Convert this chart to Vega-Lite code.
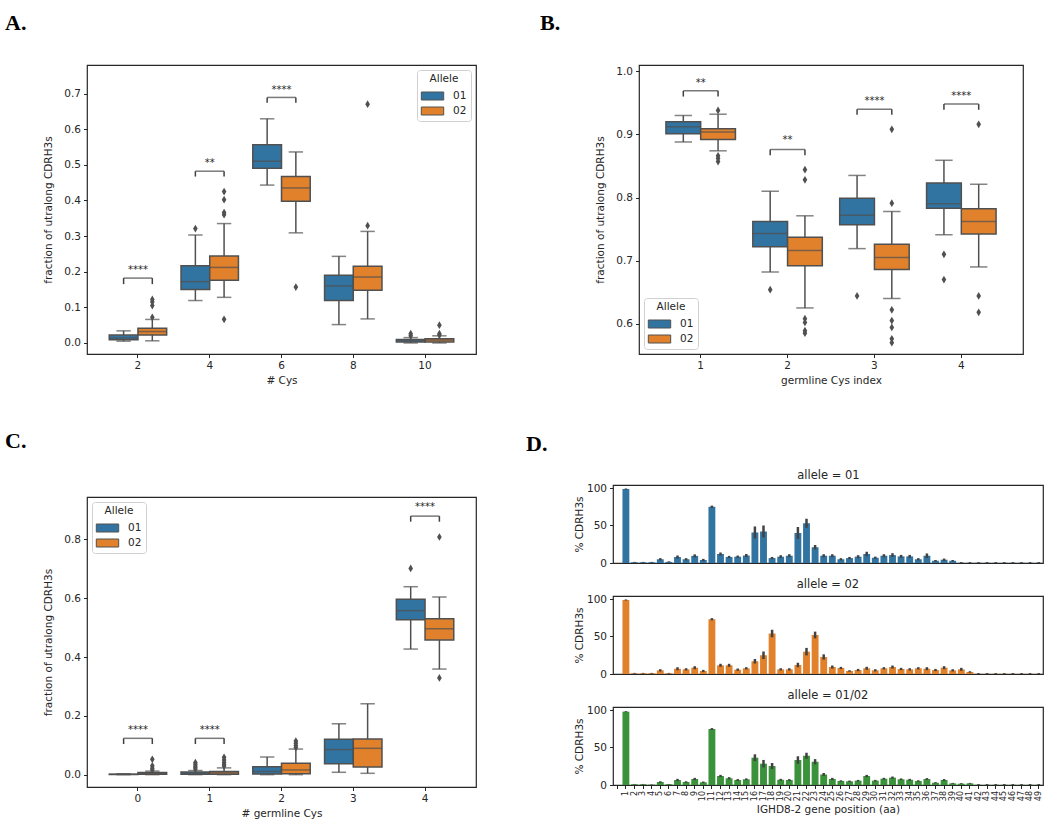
{
"$schema": "https://vega.github.io/schema/vega-lite/v6.json",
"background": "white",
"padding": {"left": 4, "top": 11, "right": 0, "bottom": 0},
"config": {
 "font": "DejaVu Sans",
 "view": {"stroke": "#262626", "strokeWidth": 1.2},
 "axis": {"domain": false, "grid": false, "tickColor": "#262626", "tickSize": 3.5, "tickWidth": 1, "labelColor": "#262626", "labelFontSize": 10.5, "titleFontSize": 10.5, "titleFontWeight": "normal", "titleColor": "#262626", "labelPadding": 3},
 "axisY": {"titlePadding": 10},
 "axisX": {"titlePadding": 4},
 "legend": {"titleFontSize": 10.5, "titleFontWeight": "normal", "titleColor": "#262626", "labelFontSize": 10.5, "labelColor": "#262626", "symbolType": "M-1.4,-0.5H1.4V0.5H-1.4Z", "symbolSize": 256, "symbolOffset": 3, "symbolStrokeColor": "#505050", "symbolStrokeWidth": 1, "padding": 4, "strokeColor": "#d0d0d0", "fillColor": "white", "cornerRadius": 3, "titleAnchor": "middle", "labelOffset": 12, "rowPadding": 0, "titlePadding": 3, "offset": 5},
 "title": {"font": "Liberation Serif", "fontSize": 22, "fontWeight": "bold", "color": "#000000", "anchor": "start", "frame": "group", "baseline": "alphabetic"}
},
"datasets": {
 "boxes": [
  {"panel":"A","cat":2,"allele":"01","lo":0.005,"q1":0.009,"med":0.014,"q3":0.022,"hi":0.034},
  {"panel":"A","cat":2,"allele":"02","lo":0.006,"q1":0.0225,"med":0.032,"q3":0.041,"hi":0.066},
  {"panel":"A","cat":4,"allele":"01","lo":0.119,"q1":0.150,"med":0.172,"q3":0.2165,"hi":0.303},
  {"panel":"A","cat":4,"allele":"02","lo":0.128,"q1":0.176,"med":0.212,"q3":0.244,"hi":0.335},
  {"panel":"A","cat":6,"allele":"01","lo":0.443,"q1":0.490,"med":0.510,"q3":0.556,"hi":0.629},
  {"panel":"A","cat":6,"allele":"02","lo":0.309,"q1":0.398,"med":0.435,"q3":0.467,"hi":0.536},
  {"panel":"A","cat":8,"allele":"01","lo":0.0515,"q1":0.119,"med":0.160,"q3":0.190,"hi":0.243},
  {"panel":"A","cat":8,"allele":"02","lo":0.0675,"q1":0.148,"med":0.185,"q3":0.2155,"hi":0.313},
  {"panel":"A","cat":10,"allele":"01","lo":0.0,"q1":0.003,"med":0.006,"q3":0.010,"hi":0.015},
  {"panel":"A","cat":10,"allele":"02","lo":0.0,"q1":0.003,"med":0.008,"q3":0.012,"hi":0.020},
  {"panel":"B","cat":1,"allele":"01","lo":0.888,"q1":0.901,"med":0.912,"q3":0.920,"hi":0.930},
  {"panel":"B","cat":1,"allele":"02","lo":0.874,"q1":0.892,"med":0.904,"q3":0.909,"hi":0.932},
  {"panel":"B","cat":2,"allele":"01","lo":0.682,"q1":0.722,"med":0.743,"q3":0.762,"hi":0.810},
  {"panel":"B","cat":2,"allele":"02","lo":0.625,"q1":0.692,"med":0.716,"q3":0.737,"hi":0.771},
  {"panel":"B","cat":3,"allele":"01","lo":0.719,"q1":0.757,"med":0.772,"q3":0.799,"hi":0.835},
  {"panel":"B","cat":3,"allele":"02","lo":0.640,"q1":0.686,"med":0.705,"q3":0.726,"hi":0.778},
  {"panel":"B","cat":4,"allele":"01","lo":0.741,"q1":0.783,"med":0.790,"q3":0.823,"hi":0.859},
  {"panel":"B","cat":4,"allele":"02","lo":0.690,"q1":0.742,"med":0.762,"q3":0.782,"hi":0.821},
  {"panel":"C","cat":0,"allele":"01","lo":0.0,"q1":0.0005,"med":0.001,"q3":0.0015,"hi":0.003},
  {"panel":"C","cat":0,"allele":"02","lo":0.0,"q1":0.001,"med":0.004,"q3":0.007,"hi":0.012},
  {"panel":"C","cat":1,"allele":"01","lo":0.0,"q1":0.001,"med":0.004,"q3":0.009,"hi":0.014},
  {"panel":"C","cat":1,"allele":"02","lo":0.0,"q1":0.001,"med":0.006,"q3":0.011,"hi":0.023},
  {"panel":"C","cat":2,"allele":"01","lo":0.0,"q1":0.002,"med":0.011,"q3":0.027,"hi":0.060},
  {"panel":"C","cat":2,"allele":"02","lo":0.0,"q1":0.003,"med":0.016,"q3":0.0385,"hi":0.087},
  {"panel":"C","cat":3,"allele":"01","lo":0.008,"q1":0.037,"med":0.085,"q3":0.120,"hi":0.173},
  {"panel":"C","cat":3,"allele":"02","lo":0.0045,"q1":0.026,"med":0.0895,"q3":0.121,"hi":0.241},
  {"panel":"C","cat":4,"allele":"01","lo":0.427,"q1":0.527,"med":0.5575,"q3":0.596,"hi":0.639},
  {"panel":"C","cat":4,"allele":"02","lo":0.359,"q1":0.458,"med":0.496,"q3":0.530,"hi":0.604}
 ],
 "outliers": [
  {"panel":"A","cat":2,"allele":"02","v":0.122},{"panel":"A","cat":2,"allele":"02","v":0.115},{"panel":"A","cat":2,"allele":"02","v":0.105},{"panel":"A","cat":2,"allele":"02","v":0.072},
  {"panel":"A","cat":4,"allele":"01","v":0.321},
  {"panel":"A","cat":4,"allele":"02","v":0.425},{"panel":"A","cat":4,"allele":"02","v":0.402},{"panel":"A","cat":4,"allele":"02","v":0.366},{"panel":"A","cat":4,"allele":"02","v":0.360},{"panel":"A","cat":4,"allele":"02","v":0.0665},
  {"panel":"A","cat":6,"allele":"02","v":0.157},
  {"panel":"A","cat":8,"allele":"02","v":0.670},{"panel":"A","cat":8,"allele":"02","v":0.329},
  {"panel":"A","cat":10,"allele":"01","v":0.026},{"panel":"A","cat":10,"allele":"01","v":0.020},
  {"panel":"A","cat":10,"allele":"02","v":0.050},{"panel":"A","cat":10,"allele":"02","v":0.026},{"panel":"A","cat":10,"allele":"02","v":0.022},
  {"panel":"B","cat":1,"allele":"02","v":0.938},{"panel":"B","cat":1,"allele":"02","v":0.866},{"panel":"B","cat":1,"allele":"02","v":0.862},{"panel":"B","cat":1,"allele":"02","v":0.857},
  {"panel":"B","cat":2,"allele":"01","v":0.654},
  {"panel":"B","cat":2,"allele":"02","v":0.844},{"panel":"B","cat":2,"allele":"02","v":0.828},{"panel":"B","cat":2,"allele":"02","v":0.608},{"panel":"B","cat":2,"allele":"02","v":0.602},{"panel":"B","cat":2,"allele":"02","v":0.589},{"panel":"B","cat":2,"allele":"02","v":0.585},
  {"panel":"B","cat":3,"allele":"01","v":0.644},
  {"panel":"B","cat":3,"allele":"02","v":0.908},{"panel":"B","cat":3,"allele":"02","v":0.791},{"panel":"B","cat":3,"allele":"02","v":0.622},{"panel":"B","cat":3,"allele":"02","v":0.605},{"panel":"B","cat":3,"allele":"02","v":0.594},{"panel":"B","cat":3,"allele":"02","v":0.576},{"panel":"B","cat":3,"allele":"02","v":0.570},
  {"panel":"B","cat":4,"allele":"01","v":0.710},{"panel":"B","cat":4,"allele":"01","v":0.670},
  {"panel":"B","cat":4,"allele":"02","v":0.916},{"panel":"B","cat":4,"allele":"02","v":0.644},{"panel":"B","cat":4,"allele":"02","v":0.618},
  {"panel":"C","cat":0,"allele":"02","v":0.052},{"panel":"C","cat":0,"allele":"02","v":0.030},{"panel":"C","cat":0,"allele":"02","v":0.022},{"panel":"C","cat":0,"allele":"02","v":0.016},
  {"panel":"C","cat":1,"allele":"01","v":0.041},{"panel":"C","cat":1,"allele":"01","v":0.035},{"panel":"C","cat":1,"allele":"01","v":0.029},{"panel":"C","cat":1,"allele":"01","v":0.024},{"panel":"C","cat":1,"allele":"01","v":0.019},
  {"panel":"C","cat":1,"allele":"02","v":0.059},{"panel":"C","cat":1,"allele":"02","v":0.050},{"panel":"C","cat":1,"allele":"02","v":0.042},{"panel":"C","cat":1,"allele":"02","v":0.035},{"panel":"C","cat":1,"allele":"02","v":0.029},
  {"panel":"C","cat":2,"allele":"02","v":0.114},{"panel":"C","cat":2,"allele":"02","v":0.107},{"panel":"C","cat":2,"allele":"02","v":0.099},{"panel":"C","cat":2,"allele":"02","v":0.092},
  {"panel":"C","cat":4,"allele":"01","v":0.701},
  {"panel":"C","cat":4,"allele":"02","v":0.808},{"panel":"C","cat":4,"allele":"02","v":0.329}
 ],
 "sig": [
  {"panel":"A","cat":2,"allele":"01","lo":0.165,"top":0.182,"ty":0.204,"label":"****"},
  {"panel":"A","cat":2,"allele":"02","lo":0.165,"top":0.182,"ty":0.204,"label":"****"},
  {"panel":"A","cat":4,"allele":"01","lo":0.467,"top":0.482,"ty":0.505,"label":"**"},
  {"panel":"A","cat":4,"allele":"02","lo":0.467,"top":0.482,"ty":0.505,"label":"**"},
  {"panel":"A","cat":6,"allele":"01","lo":0.674,"top":0.689,"ty":0.711,"label":"****"},
  {"panel":"A","cat":6,"allele":"02","lo":0.674,"top":0.689,"ty":0.711,"label":"****"},
  {"panel":"B","cat":1,"allele":"01","lo":0.960,"top":0.969,"ty":0.982,"label":"**"},
  {"panel":"B","cat":1,"allele":"02","lo":0.960,"top":0.969,"ty":0.982,"label":"**"},
  {"panel":"B","cat":2,"allele":"01","lo":0.867,"top":0.876,"ty":0.891,"label":"**"},
  {"panel":"B","cat":2,"allele":"02","lo":0.867,"top":0.876,"ty":0.891,"label":"**"},
  {"panel":"B","cat":3,"allele":"01","lo":0.931,"top":0.940,"ty":0.953,"label":"****"},
  {"panel":"B","cat":3,"allele":"02","lo":0.931,"top":0.940,"ty":0.953,"label":"****"},
  {"panel":"B","cat":4,"allele":"01","lo":0.939,"top":0.948,"ty":0.961,"label":"****"},
  {"panel":"B","cat":4,"allele":"02","lo":0.939,"top":0.948,"ty":0.961,"label":"****"},
  {"panel":"C","cat":0,"allele":"01","lo":0.104,"top":0.1235,"ty":0.152,"label":"****"},
  {"panel":"C","cat":0,"allele":"02","lo":0.104,"top":0.1235,"ty":0.152,"label":"****"},
  {"panel":"C","cat":1,"allele":"01","lo":0.104,"top":0.1235,"ty":0.152,"label":"****"},
  {"panel":"C","cat":1,"allele":"02","lo":0.104,"top":0.1235,"ty":0.152,"label":"****"},
  {"panel":"C","cat":4,"allele":"01","lo":0.860,"top":0.879,"ty":0.909,"label":"****"},
  {"panel":"C","cat":4,"allele":"02","lo":0.860,"top":0.879,"ty":0.909,"label":"****"}
 ],
 "pos": [
  {"allele":"01","pos":0,"pct":0,"lo":0,"hi":0},
  {"allele":"01","pos":1,"pct":98.7,"lo":98.0,"hi":99.4},
  {"allele":"01","pos":2,"pct":1.0,"lo":0.5,"hi":1.5},
  {"allele":"01","pos":3,"pct":1.0,"lo":0.5,"hi":1.5},
  {"allele":"01","pos":4,"pct":1.0,"lo":0.5,"hi":1.5},
  {"allele":"01","pos":5,"pct":5.0,"lo":3.5,"hi":6.5},
  {"allele":"01","pos":6,"pct":1.5,"lo":0.8,"hi":2.2},
  {"allele":"01","pos":7,"pct":8.0,"lo":6.0,"hi":10.0},
  {"allele":"01","pos":8,"pct":5.0,"lo":3.5,"hi":6.5},
  {"allele":"01","pos":9,"pct":9.5,"lo":7.5,"hi":11.5},
  {"allele":"01","pos":10,"pct":4.0,"lo":2.5,"hi":5.5},
  {"allele":"01","pos":11,"pct":75.0,"lo":73.5,"hi":76.5},
  {"allele":"01","pos":12,"pct":12.0,"lo":10.0,"hi":14.0},
  {"allele":"01","pos":13,"pct":8.0,"lo":6.5,"hi":9.5},
  {"allele":"01","pos":14,"pct":8.4,"lo":6.9,"hi":9.9},
  {"allele":"01","pos":15,"pct":10.0,"lo":8.0,"hi":12.0},
  {"allele":"01","pos":16,"pct":40.7,"lo":32.7,"hi":48.7},
  {"allele":"01","pos":17,"pct":42.0,"lo":34.0,"hi":50.0},
  {"allele":"01","pos":18,"pct":6.6,"lo":5.1,"hi":8.1},
  {"allele":"01","pos":19,"pct":8.4,"lo":6.4,"hi":10.4},
  {"allele":"01","pos":20,"pct":9.7,"lo":7.7,"hi":11.7},
  {"allele":"01","pos":21,"pct":40.0,"lo":32.0,"hi":48.0},
  {"allele":"01","pos":22,"pct":53.0,"lo":47.0,"hi":59.0},
  {"allele":"01","pos":23,"pct":21.0,"lo":18.0,"hi":24.0},
  {"allele":"01","pos":24,"pct":9.7,"lo":7.7,"hi":11.7},
  {"allele":"01","pos":25,"pct":9.7,"lo":7.7,"hi":11.7},
  {"allele":"01","pos":26,"pct":5.0,"lo":3.5,"hi":6.5},
  {"allele":"01","pos":27,"pct":6.6,"lo":5.1,"hi":8.1},
  {"allele":"01","pos":28,"pct":8.4,"lo":6.4,"hi":10.4},
  {"allele":"01","pos":29,"pct":12.0,"lo":9.0,"hi":15.0},
  {"allele":"01","pos":30,"pct":7.0,"lo":5.5,"hi":8.5},
  {"allele":"01","pos":31,"pct":9.7,"lo":7.7,"hi":11.7},
  {"allele":"01","pos":32,"pct":10.6,"lo":8.1,"hi":13.1},
  {"allele":"01","pos":33,"pct":8.8,"lo":6.8,"hi":10.8},
  {"allele":"01","pos":34,"pct":8.8,"lo":6.8,"hi":10.8},
  {"allele":"01","pos":35,"pct":5.0,"lo":3.5,"hi":6.5},
  {"allele":"01","pos":36,"pct":9.7,"lo":6.7,"hi":12.7},
  {"allele":"01","pos":37,"pct":3.0,"lo":2.0,"hi":4.0},
  {"allele":"01","pos":38,"pct":4.4,"lo":2.9,"hi":5.9},
  {"allele":"01","pos":39,"pct":3.0,"lo":2.0,"hi":4.0},
  {"allele":"01","pos":40,"pct":0.3,"lo":0,"hi":1.2},
  {"allele":"01","pos":41,"pct":0.3,"lo":0,"hi":1.2},
  {"allele":"01","pos":42,"pct":0.3,"lo":0,"hi":1.2},
  {"allele":"01","pos":43,"pct":0.3,"lo":0,"hi":1.2},
  {"allele":"01","pos":44,"pct":0.3,"lo":0,"hi":1.2},
  {"allele":"01","pos":45,"pct":0.3,"lo":0,"hi":1.2},
  {"allele":"01","pos":46,"pct":0.3,"lo":0,"hi":1.2},
  {"allele":"01","pos":47,"pct":0.3,"lo":0,"hi":1.2},
  {"allele":"01","pos":48,"pct":0.3,"lo":0,"hi":1.2},
  {"allele":"01","pos":49,"pct":0.3,"lo":0,"hi":1.2},
  {"allele":"02","pos":0,"pct":0,"lo":0,"hi":0},
  {"allele":"02","pos":1,"pct":98.7,"lo":98.0,"hi":99.4},
  {"allele":"02","pos":2,"pct":1.0,"lo":0.5,"hi":1.5},
  {"allele":"02","pos":3,"pct":1.0,"lo":0.5,"hi":1.5},
  {"allele":"02","pos":4,"pct":1.0,"lo":0.5,"hi":1.5},
  {"allele":"02","pos":5,"pct":4.9,"lo":3.4,"hi":6.4},
  {"allele":"02","pos":6,"pct":1.0,"lo":0.5,"hi":1.5},
  {"allele":"02","pos":7,"pct":7.0,"lo":5.0,"hi":9.0},
  {"allele":"02","pos":8,"pct":6.2,"lo":4.7,"hi":7.7},
  {"allele":"02","pos":9,"pct":8.4,"lo":6.4,"hi":10.4},
  {"allele":"02","pos":10,"pct":4.0,"lo":2.5,"hi":5.5},
  {"allele":"02","pos":11,"pct":73.0,"lo":71.5,"hi":74.5},
  {"allele":"02","pos":12,"pct":11.6,"lo":9.6,"hi":13.6},
  {"allele":"02","pos":13,"pct":11.6,"lo":9.6,"hi":13.6},
  {"allele":"02","pos":14,"pct":5.8,"lo":4.3,"hi":7.3},
  {"allele":"02","pos":15,"pct":7.6,"lo":6.1,"hi":9.1},
  {"allele":"02","pos":16,"pct":17.0,"lo":14.0,"hi":20.0},
  {"allele":"02","pos":17,"pct":25.0,"lo":20.0,"hi":30.0},
  {"allele":"02","pos":18,"pct":54.0,"lo":49.0,"hi":59.0},
  {"allele":"02","pos":19,"pct":6.2,"lo":4.7,"hi":7.7},
  {"allele":"02","pos":20,"pct":6.2,"lo":4.7,"hi":7.7},
  {"allele":"02","pos":21,"pct":12.0,"lo":9.0,"hi":15.0},
  {"allele":"02","pos":22,"pct":29.8,"lo":24.8,"hi":34.8},
  {"allele":"02","pos":23,"pct":52.0,"lo":47.5,"hi":56.5},
  {"allele":"02","pos":24,"pct":22.7,"lo":19.2,"hi":26.2},
  {"allele":"02","pos":25,"pct":9.3,"lo":7.3,"hi":11.3},
  {"allele":"02","pos":26,"pct":8.0,"lo":6.5,"hi":9.5},
  {"allele":"02","pos":27,"pct":4.0,"lo":3.0,"hi":5.0},
  {"allele":"02","pos":28,"pct":5.3,"lo":3.8,"hi":6.8},
  {"allele":"02","pos":29,"pct":7.6,"lo":5.6,"hi":9.6},
  {"allele":"02","pos":30,"pct":4.9,"lo":3.4,"hi":6.4},
  {"allele":"02","pos":31,"pct":7.6,"lo":6.1,"hi":9.1},
  {"allele":"02","pos":32,"pct":9.3,"lo":7.3,"hi":11.3},
  {"allele":"02","pos":33,"pct":6.7,"lo":5.2,"hi":8.2},
  {"allele":"02","pos":34,"pct":6.2,"lo":4.7,"hi":7.7},
  {"allele":"02","pos":35,"pct":7.6,"lo":6.1,"hi":9.1},
  {"allele":"02","pos":36,"pct":7.1,"lo":5.1,"hi":9.1},
  {"allele":"02","pos":37,"pct":5.3,"lo":3.8,"hi":6.8},
  {"allele":"02","pos":38,"pct":8.4,"lo":6.4,"hi":10.4},
  {"allele":"02","pos":39,"pct":4.9,"lo":3.4,"hi":6.4},
  {"allele":"02","pos":40,"pct":6.2,"lo":4.2,"hi":8.2},
  {"allele":"02","pos":41,"pct":2.7,"lo":1.7,"hi":3.7},
  {"allele":"02","pos":42,"pct":0.3,"lo":0,"hi":1.2},
  {"allele":"02","pos":43,"pct":0.3,"lo":0,"hi":1.2},
  {"allele":"02","pos":44,"pct":0.3,"lo":0,"hi":1.2},
  {"allele":"02","pos":45,"pct":0.3,"lo":0,"hi":1.2},
  {"allele":"02","pos":46,"pct":0.3,"lo":0,"hi":1.2},
  {"allele":"02","pos":47,"pct":0.3,"lo":0,"hi":1.2},
  {"allele":"02","pos":48,"pct":0.3,"lo":0,"hi":1.2},
  {"allele":"02","pos":49,"pct":0.3,"lo":0,"hi":1.2},
  {"allele":"01/02","pos":0,"pct":0,"lo":0,"hi":0},
  {"allele":"01/02","pos":1,"pct":97.8,"lo":97.2,"hi":98.4},
  {"allele":"01/02","pos":2,"pct":1.0,"lo":0.6,"hi":1.4},
  {"allele":"01/02","pos":3,"pct":1.0,"lo":0.6,"hi":1.4},
  {"allele":"01/02","pos":4,"pct":0.5,"lo":0.2,"hi":0.8},
  {"allele":"01/02","pos":5,"pct":4.0,"lo":3.0,"hi":5.0},
  {"allele":"01/02","pos":6,"pct":1.0,"lo":0.6,"hi":1.4},
  {"allele":"01/02","pos":7,"pct":6.7,"lo":5.2,"hi":8.2},
  {"allele":"01/02","pos":8,"pct":4.0,"lo":3.0,"hi":5.0},
  {"allele":"01/02","pos":9,"pct":8.0,"lo":6.5,"hi":9.5},
  {"allele":"01/02","pos":10,"pct":3.6,"lo":2.6,"hi":4.6},
  {"allele":"01/02","pos":11,"pct":74.7,"lo":73.5,"hi":75.9},
  {"allele":"01/02","pos":12,"pct":12.0,"lo":10.5,"hi":13.5},
  {"allele":"01/02","pos":13,"pct":9.0,"lo":7.5,"hi":10.5},
  {"allele":"01/02","pos":14,"pct":6.7,"lo":5.5,"hi":7.9},
  {"allele":"01/02","pos":15,"pct":7.6,"lo":6.4,"hi":8.8},
  {"allele":"01/02","pos":16,"pct":36.4,"lo":31.9,"hi":40.9},
  {"allele":"01/02","pos":17,"pct":28.4,"lo":23.4,"hi":33.4},
  {"allele":"01/02","pos":18,"pct":25.3,"lo":21.3,"hi":29.3},
  {"allele":"01/02","pos":19,"pct":7.0,"lo":5.8,"hi":8.2},
  {"allele":"01/02","pos":20,"pct":6.7,"lo":5.5,"hi":7.9},
  {"allele":"01/02","pos":21,"pct":33.3,"lo":28.3,"hi":38.3},
  {"allele":"01/02","pos":22,"pct":39.0,"lo":35.0,"hi":43.0},
  {"allele":"01/02","pos":23,"pct":31.0,"lo":27.5,"hi":34.5},
  {"allele":"01/02","pos":24,"pct":14.0,"lo":12.0,"hi":16.0},
  {"allele":"01/02","pos":25,"pct":8.0,"lo":6.5,"hi":9.5},
  {"allele":"01/02","pos":26,"pct":5.3,"lo":4.3,"hi":6.3},
  {"allele":"01/02","pos":27,"pct":4.9,"lo":3.9,"hi":5.9},
  {"allele":"01/02","pos":28,"pct":5.8,"lo":4.8,"hi":6.8},
  {"allele":"01/02","pos":29,"pct":12.0,"lo":10.5,"hi":13.5},
  {"allele":"01/02","pos":30,"pct":5.8,"lo":4.8,"hi":6.8},
  {"allele":"01/02","pos":31,"pct":8.4,"lo":7.2,"hi":9.6},
  {"allele":"01/02","pos":32,"pct":9.8,"lo":8.3,"hi":11.3},
  {"allele":"01/02","pos":33,"pct":7.6,"lo":6.4,"hi":8.8},
  {"allele":"01/02","pos":34,"pct":7.0,"lo":5.8,"hi":8.2},
  {"allele":"01/02","pos":35,"pct":5.3,"lo":4.3,"hi":6.3},
  {"allele":"01/02","pos":36,"pct":8.0,"lo":6.8,"hi":9.2},
  {"allele":"01/02","pos":37,"pct":3.0,"lo":2.2,"hi":3.8},
  {"allele":"01/02","pos":38,"pct":6.7,"lo":5.5,"hi":7.9},
  {"allele":"01/02","pos":39,"pct":2.2,"lo":1.6,"hi":2.8},
  {"allele":"01/02","pos":40,"pct":1.8,"lo":1.2,"hi":2.4},
  {"allele":"01/02","pos":41,"pct":2.2,"lo":1.6,"hi":2.8},
  {"allele":"01/02","pos":42,"pct":0.3,"lo":0,"hi":1.2},
  {"allele":"01/02","pos":43,"pct":0.3,"lo":0,"hi":1.2},
  {"allele":"01/02","pos":44,"pct":0.3,"lo":0,"hi":1.2},
  {"allele":"01/02","pos":45,"pct":0.3,"lo":0,"hi":1.2},
  {"allele":"01/02","pos":46,"pct":0.3,"lo":0,"hi":1.2},
  {"allele":"01/02","pos":47,"pct":0.3,"lo":0,"hi":1.2},
  {"allele":"01/02","pos":48,"pct":0.3,"lo":0,"hi":1.2},
  {"allele":"01/02","pos":49,"pct":0.3,"lo":0,"hi":1.2}
 ]
},
"resolve": {"scale": {"color": "independent", "x": "independent", "y": "independent", "xOffset": "independent"}, "legend": {"color": "independent"}},
"spacing": 42,
"vconcat": [
 {
  "spacing": 62,
  "resolve": {"scale": {"color": "independent", "x": "independent", "y": "independent", "xOffset": "independent"}, "legend": {"color": "independent"}},
  "hconcat": [
   {
    "width": 389, "height": 289,
    "title": {"text": "A.", "dx": -82, "offset": 30},
    "encoding": {"x": {"field": "cat", "type": "ordinal", "scale": {"domain": [2,4,6,8,10], "paddingInner": 0.2, "paddingOuter": 0.31}, "axis": {"title": "# Cys", "labelAngle": 0}}},
    "layer": [
     {"data": {"name": "boxes"}, "transform": [{"filter": "datum.panel == 'A'"}],
      "mark": {"type": "rule", "color": "#505050", "strokeWidth": 1.5},
      "encoding": {"xOffset": {"field": "allele", "type": "nominal", "scale": {"domain": ["01","02"], "paddingInner": 0, "paddingOuter": 0}},
       "y": {"field": "lo", "type": "quantitative", "scale": {"domain": [-0.031, 0.78], "nice": false, "zero": false}, "axis": {"title": "fraction of utralong CDRH3s", "values": [0,0.1,0.2,0.3,0.4,0.5,0.6,0.7], "format": ".1f"}},
       "y2": {"field": "hi"}}},
     {"data": {"name": "boxes"}, "transform": [{"filter": "datum.panel == 'A'"}],
      "mark": {"type": "tick", "color": "#505050", "thickness": 1.5, "size": 14.4},
      "encoding": {"xOffset": {"field": "allele", "type": "nominal", "scale": {"domain": ["01","02"], "paddingInner": 0, "paddingOuter": 0}},
       "y": {"field": "lo", "type": "quantitative", "scale": {"domain": [-0.031, 0.78], "nice": false, "zero": false}, "axis": {"title": "fraction of utralong CDRH3s", "values": [0,0.1,0.2,0.3,0.4,0.5,0.6,0.7], "format": ".1f"}}}},
     {"data": {"name": "boxes"}, "transform": [{"filter": "datum.panel == 'A'"}],
      "mark": {"type": "tick", "color": "#505050", "thickness": 1.5, "size": 14.4},
      "encoding": {"xOffset": {"field": "allele", "type": "nominal", "scale": {"domain": ["01","02"], "paddingInner": 0, "paddingOuter": 0}},
       "y": {"field": "hi", "type": "quantitative", "scale": {"domain": [-0.031, 0.78], "nice": false, "zero": false}, "axis": {"title": "fraction of utralong CDRH3s", "values": [0,0.1,0.2,0.3,0.4,0.5,0.6,0.7], "format": ".1f"}}}},
     {"data": {"name": "boxes"}, "transform": [{"filter": "datum.panel == 'A'"}],
      "mark": {"type": "bar", "stroke": "#505050", "strokeWidth": 1.5},
      "encoding": {"xOffset": {"field": "allele", "type": "nominal", "scale": {"domain": ["01","02"], "paddingInner": 0, "paddingOuter": 0}},
       "y": {"field": "q1", "type": "quantitative", "scale": {"domain": [-0.031, 0.78], "nice": false, "zero": false}, "axis": {"title": "fraction of utralong CDRH3s", "values": [0,0.1,0.2,0.3,0.4,0.5,0.6,0.7], "format": ".1f"}},
       "y2": {"field": "q3"},
       "color": {"field": "allele", "type": "nominal", "scale": {"domain": ["01","02"], "range": ["#3274a1","#e1812c"]}, "legend": {"title": "Allele", "orient": "top-right"}}}},
     {"data": {"name": "boxes"}, "transform": [{"filter": "datum.panel == 'A'"}],
      "mark": {"type": "tick", "color": "#505050", "thickness": 1.5, "size": 28.7},
      "encoding": {"xOffset": {"field": "allele", "type": "nominal", "scale": {"domain": ["01","02"], "paddingInner": 0, "paddingOuter": 0}},
       "y": {"field": "med", "type": "quantitative", "scale": {"domain": [-0.031, 0.78], "nice": false, "zero": false}, "axis": {"title": "fraction of utralong CDRH3s", "values": [0,0.1,0.2,0.3,0.4,0.5,0.6,0.7], "format": ".1f"}}}},
     {"data": {"name": "outliers"}, "transform": [{"filter": "datum.panel == 'A'"}],
      "mark": {"type": "point", "shape": "M0,-1L0.6,0L0,1L-0.6,0Z", "filled": true, "color": "#505050", "size": 60, "opacity": 1},
      "encoding": {"xOffset": {"field": "allele", "type": "nominal", "scale": {"domain": ["01","02"], "paddingInner": 0, "paddingOuter": 0}},
       "y": {"field": "v", "type": "quantitative", "scale": {"domain": [-0.031, 0.78], "nice": false, "zero": false}, "axis": {"title": "fraction of utralong CDRH3s", "values": [0,0.1,0.2,0.3,0.4,0.5,0.6,0.7], "format": ".1f"}}}},
     {"data": {"name": "sig"}, "transform": [{"filter": "datum.panel == 'A'"}],
      "mark": {"type": "rule", "color": "#404040", "strokeWidth": 1.5},
      "encoding": {"xOffset": {"field": "allele", "type": "nominal", "scale": {"domain": ["01","02"], "paddingInner": 0, "paddingOuter": 0}},
       "y": {"field": "lo", "type": "quantitative", "scale": {"domain": [-0.031, 0.78], "nice": false, "zero": false}, "axis": {"title": "fraction of utralong CDRH3s", "values": [0,0.1,0.2,0.3,0.4,0.5,0.6,0.7], "format": ".1f"}},
       "y2": {"field": "top"}}},
     {"data": {"name": "sig"}, "transform": [{"filter": "datum.panel == 'A' && datum.allele == '01'"}],
      "mark": {"type": "tick", "color": "#404040", "thickness": 1.5, "size": 28.7},
      "encoding": {"y": {"field": "top", "type": "quantitative", "scale": {"domain": [-0.031, 0.78], "nice": false, "zero": false}, "axis": {"title": "fraction of utralong CDRH3s", "values": [0,0.1,0.2,0.3,0.4,0.5,0.6,0.7], "format": ".1f"}}}},
     {"data": {"name": "sig"}, "transform": [{"filter": "datum.panel == 'A' && datum.allele == '01'"}],
      "mark": {"type": "text", "fontSize": 10, "color": "#262626", "baseline": "middle"},
      "encoding": {"y": {"field": "ty", "type": "quantitative", "scale": {"domain": [-0.031, 0.78], "nice": false, "zero": false}, "axis": {"title": "fraction of utralong CDRH3s", "values": [0,0.1,0.2,0.3,0.4,0.5,0.6,0.7], "format": ".1f"}}, "text": {"field": "label"}}}
    ]
   },
   {
    "width": 384, "height": 289,
    "title": {"text": "B.", "dx": -99, "offset": 30},
    "encoding": {"x": {"field": "cat", "type": "ordinal", "scale": {"domain": [1,2,3,4], "paddingInner": 0.2, "paddingOuter": 0.31}, "axis": {"title": "germline Cys index", "labelAngle": 0}}},
    "layer": [
     {"data": {"name": "boxes"}, "transform": [{"filter": "datum.panel == 'B'"}],
      "mark": {"type": "rule", "color": "#505050", "strokeWidth": 1.5},
      "encoding": {"xOffset": {"field": "allele", "type": "nominal", "scale": {"domain": ["01","02"], "paddingInner": 0, "paddingOuter": 0}},
       "y": {"field": "lo", "type": "quantitative", "scale": {"domain": [0.552, 1.01], "nice": false, "zero": false}, "axis": {"title": "fraction of utralong CDRH3s", "values": [0.6,0.7,0.8,0.9,1.0], "format": ".1f"}},
       "y2": {"field": "hi"}}},
     {"data": {"name": "boxes"}, "transform": [{"filter": "datum.panel == 'B'"}],
      "mark": {"type": "tick", "color": "#505050", "thickness": 1.5, "size": 17.4},
      "encoding": {"xOffset": {"field": "allele", "type": "nominal", "scale": {"domain": ["01","02"], "paddingInner": 0, "paddingOuter": 0}},
       "y": {"field": "lo", "type": "quantitative", "scale": {"domain": [0.552, 1.01], "nice": false, "zero": false}, "axis": {"title": "fraction of utralong CDRH3s", "values": [0.6,0.7,0.8,0.9,1.0], "format": ".1f"}}}},
     {"data": {"name": "boxes"}, "transform": [{"filter": "datum.panel == 'B'"}],
      "mark": {"type": "tick", "color": "#505050", "thickness": 1.5, "size": 17.4},
      "encoding": {"xOffset": {"field": "allele", "type": "nominal", "scale": {"domain": ["01","02"], "paddingInner": 0, "paddingOuter": 0}},
       "y": {"field": "hi", "type": "quantitative", "scale": {"domain": [0.552, 1.01], "nice": false, "zero": false}, "axis": {"title": "fraction of utralong CDRH3s", "values": [0.6,0.7,0.8,0.9,1.0], "format": ".1f"}}}},
     {"data": {"name": "boxes"}, "transform": [{"filter": "datum.panel == 'B'"}],
      "mark": {"type": "bar", "stroke": "#505050", "strokeWidth": 1.5},
      "encoding": {"xOffset": {"field": "allele", "type": "nominal", "scale": {"domain": ["01","02"], "paddingInner": 0, "paddingOuter": 0}},
       "y": {"field": "q1", "type": "quantitative", "scale": {"domain": [0.552, 1.01], "nice": false, "zero": false}, "axis": {"title": "fraction of utralong CDRH3s", "values": [0.6,0.7,0.8,0.9,1.0], "format": ".1f"}},
       "y2": {"field": "q3"},
       "color": {"field": "allele", "type": "nominal", "scale": {"domain": ["01","02"], "range": ["#3274a1","#e1812c"]}, "legend": {"title": "Allele", "orient": "bottom-left"}}}},
     {"data": {"name": "boxes"}, "transform": [{"filter": "datum.panel == 'B'"}],
      "mark": {"type": "tick", "color": "#505050", "thickness": 1.5, "size": 34.7},
      "encoding": {"xOffset": {"field": "allele", "type": "nominal", "scale": {"domain": ["01","02"], "paddingInner": 0, "paddingOuter": 0}},
       "y": {"field": "med", "type": "quantitative", "scale": {"domain": [0.552, 1.01], "nice": false, "zero": false}, "axis": {"title": "fraction of utralong CDRH3s", "values": [0.6,0.7,0.8,0.9,1.0], "format": ".1f"}}}},
     {"data": {"name": "outliers"}, "transform": [{"filter": "datum.panel == 'B'"}],
      "mark": {"type": "point", "shape": "M0,-1L0.6,0L0,1L-0.6,0Z", "filled": true, "color": "#505050", "size": 60, "opacity": 1},
      "encoding": {"xOffset": {"field": "allele", "type": "nominal", "scale": {"domain": ["01","02"], "paddingInner": 0, "paddingOuter": 0}},
       "y": {"field": "v", "type": "quantitative", "scale": {"domain": [0.552, 1.01], "nice": false, "zero": false}, "axis": {"title": "fraction of utralong CDRH3s", "values": [0.6,0.7,0.8,0.9,1.0], "format": ".1f"}}}},
     {"data": {"name": "sig"}, "transform": [{"filter": "datum.panel == 'B'"}],
      "mark": {"type": "rule", "color": "#404040", "strokeWidth": 1.5},
      "encoding": {"xOffset": {"field": "allele", "type": "nominal", "scale": {"domain": ["01","02"], "paddingInner": 0, "paddingOuter": 0}},
       "y": {"field": "lo", "type": "quantitative", "scale": {"domain": [0.552, 1.01], "nice": false, "zero": false}, "axis": {"title": "fraction of utralong CDRH3s", "values": [0.6,0.7,0.8,0.9,1.0], "format": ".1f"}},
       "y2": {"field": "top"}}},
     {"data": {"name": "sig"}, "transform": [{"filter": "datum.panel == 'B' && datum.allele == '01'"}],
      "mark": {"type": "tick", "color": "#404040", "thickness": 1.5, "size": 34.7},
      "encoding": {"y": {"field": "top", "type": "quantitative", "scale": {"domain": [0.552, 1.01], "nice": false, "zero": false}, "axis": {"title": "fraction of utralong CDRH3s", "values": [0.6,0.7,0.8,0.9,1.0], "format": ".1f"}}}},
     {"data": {"name": "sig"}, "transform": [{"filter": "datum.panel == 'B' && datum.allele == '01'"}],
      "mark": {"type": "text", "fontSize": 10, "color": "#262626", "baseline": "middle"},
      "encoding": {"y": {"field": "ty", "type": "quantitative", "scale": {"domain": [0.552, 1.01], "nice": false, "zero": false}, "axis": {"title": "fraction of utralong CDRH3s", "values": [0.6,0.7,0.8,0.9,1.0], "format": ".1f"}}, "text": {"field": "label"}}}
    ]
   }
  ]
 },
 {
  "columns": 2,
  "align": "none",
  "spacing": 49,
  "resolve": {"scale": {"color": "independent", "x": "independent", "y": "independent", "xOffset": "independent"}, "legend": {"color": "independent"}},
  "concat": [
   {
    "spacing": 5,
    "resolve": {"scale": {"color": "independent", "x": "independent", "y": "independent", "xOffset": "independent"}, "legend": {"color": "independent"}},
    "vconcat": [
     {
      "width": 389, "height": 1,
      "view": {"stroke": null},
      "title": {"text": "C.", "dx": -82, "offset": 27},
      "data": {"values": [{"t": ""}]},
      "mark": {"type": "text"},
      "encoding": {"text": {"field": "t"}}
     },
     {
      "width": 389, "height": 290,
      "encoding": {"x": {"field": "cat", "type": "ordinal", "scale": {"domain": [0,1,2,3,4], "paddingInner": 0.2, "paddingOuter": 0.31}, "axis": {"title": "# germline Cys", "labelAngle": 0}}},
      "layer": [
       {"data": {"name": "boxes"}, "transform": [{"filter": "datum.panel == 'C'"}],
        "mark": {"type": "rule", "color": "#505050", "strokeWidth": 1.5},
        "encoding": {"xOffset": {"field": "allele", "type": "nominal", "scale": {"domain": ["01","02"], "paddingInner": 0, "paddingOuter": 0}},
         "y": {"field": "lo", "type": "quantitative", "scale": {"domain": [-0.042, 0.944], "nice": false, "zero": false}, "axis": {"title": "fraction of utralong CDRH3s", "values": [0,0.2,0.4,0.6,0.8], "format": ".1f"}},
         "y2": {"field": "hi"}}},
       {"data": {"name": "boxes"}, "transform": [{"filter": "datum.panel == 'C'"}],
        "mark": {"type": "tick", "color": "#505050", "thickness": 1.5, "size": 14.4},
        "encoding": {"xOffset": {"field": "allele", "type": "nominal", "scale": {"domain": ["01","02"], "paddingInner": 0, "paddingOuter": 0}},
         "y": {"field": "lo", "type": "quantitative", "scale": {"domain": [-0.042, 0.944], "nice": false, "zero": false}, "axis": {"title": "fraction of utralong CDRH3s", "values": [0,0.2,0.4,0.6,0.8], "format": ".1f"}}}},
       {"data": {"name": "boxes"}, "transform": [{"filter": "datum.panel == 'C'"}],
        "mark": {"type": "tick", "color": "#505050", "thickness": 1.5, "size": 14.4},
        "encoding": {"xOffset": {"field": "allele", "type": "nominal", "scale": {"domain": ["01","02"], "paddingInner": 0, "paddingOuter": 0}},
         "y": {"field": "hi", "type": "quantitative", "scale": {"domain": [-0.042, 0.944], "nice": false, "zero": false}, "axis": {"title": "fraction of utralong CDRH3s", "values": [0,0.2,0.4,0.6,0.8], "format": ".1f"}}}},
       {"data": {"name": "boxes"}, "transform": [{"filter": "datum.panel == 'C'"}],
        "mark": {"type": "bar", "stroke": "#505050", "strokeWidth": 1.5},
        "encoding": {"xOffset": {"field": "allele", "type": "nominal", "scale": {"domain": ["01","02"], "paddingInner": 0, "paddingOuter": 0}},
         "y": {"field": "q1", "type": "quantitative", "scale": {"domain": [-0.042, 0.944], "nice": false, "zero": false}, "axis": {"title": "fraction of utralong CDRH3s", "values": [0,0.2,0.4,0.6,0.8], "format": ".1f"}},
         "y2": {"field": "q3"},
         "color": {"field": "allele", "type": "nominal", "scale": {"domain": ["01","02"], "range": ["#3274a1","#e1812c"]}, "legend": {"title": "Allele", "orient": "top-left"}}}},
       {"data": {"name": "boxes"}, "transform": [{"filter": "datum.panel == 'C'"}],
        "mark": {"type": "tick", "color": "#505050", "thickness": 1.5, "size": 28.7},
        "encoding": {"xOffset": {"field": "allele", "type": "nominal", "scale": {"domain": ["01","02"], "paddingInner": 0, "paddingOuter": 0}},
         "y": {"field": "med", "type": "quantitative", "scale": {"domain": [-0.042, 0.944], "nice": false, "zero": false}, "axis": {"title": "fraction of utralong CDRH3s", "values": [0,0.2,0.4,0.6,0.8], "format": ".1f"}}}},
       {"data": {"name": "outliers"}, "transform": [{"filter": "datum.panel == 'C'"}],
        "mark": {"type": "point", "shape": "M0,-1L0.6,0L0,1L-0.6,0Z", "filled": true, "color": "#505050", "size": 60, "opacity": 1},
        "encoding": {"xOffset": {"field": "allele", "type": "nominal", "scale": {"domain": ["01","02"], "paddingInner": 0, "paddingOuter": 0}},
         "y": {"field": "v", "type": "quantitative", "scale": {"domain": [-0.042, 0.944], "nice": false, "zero": false}, "axis": {"title": "fraction of utralong CDRH3s", "values": [0,0.2,0.4,0.6,0.8], "format": ".1f"}}}},
       {"data": {"name": "sig"}, "transform": [{"filter": "datum.panel == 'C'"}],
        "mark": {"type": "rule", "color": "#404040", "strokeWidth": 1.5},
        "encoding": {"xOffset": {"field": "allele", "type": "nominal", "scale": {"domain": ["01","02"], "paddingInner": 0, "paddingOuter": 0}},
         "y": {"field": "lo", "type": "quantitative", "scale": {"domain": [-0.042, 0.944], "nice": false, "zero": false}, "axis": {"title": "fraction of utralong CDRH3s", "values": [0,0.2,0.4,0.6,0.8], "format": ".1f"}},
         "y2": {"field": "top"}}},
       {"data": {"name": "sig"}, "transform": [{"filter": "datum.panel == 'C' && datum.allele == '01'"}],
        "mark": {"type": "tick", "color": "#404040", "thickness": 1.5, "size": 28.7},
        "encoding": {"y": {"field": "top", "type": "quantitative", "scale": {"domain": [-0.042, 0.944], "nice": false, "zero": false}, "axis": {"title": "fraction of utralong CDRH3s", "values": [0,0.2,0.4,0.6,0.8], "format": ".1f"}}}},
       {"data": {"name": "sig"}, "transform": [{"filter": "datum.panel == 'C' && datum.allele == '01'"}],
        "mark": {"type": "text", "fontSize": 10, "color": "#262626", "baseline": "middle"},
        "encoding": {"y": {"field": "ty", "type": "quantitative", "scale": {"domain": [-0.042, 0.944], "nice": false, "zero": false}, "axis": {"title": "fraction of utralong CDRH3s", "values": [0,0.2,0.4,0.6,0.8], "format": ".1f"}}, "text": {"field": "label"}}}
      ]
     }
    ]
   },
   {
    "title": {"text": "D.", "dx": -87, "offset": 12},
    "spacing": 7,
    "vconcat": [
     {
      "width": 430, "height": 78,
      "data": {"name": "pos"},
      "transform": [{"filter": "datum.allele == '01'"}],
      "encoding": {"x": {"field": "pos", "type": "ordinal", "scale": {"paddingInner": 0.2, "paddingOuter": 0.1}, "axis": {"orient": "top", "title": "allele = 01", "labels": false, "ticks": false, "domain": false, "titleFontSize": 11.5, "titlePadding": 5}}},
      "layer": [
       {"mark": {"type": "bar", "color": "#3274a1"},
        "encoding": {"y": {"field": "pct", "type": "quantitative", "scale": {"domain": [0, 104], "nice": false}, "axis": {"title": "% CDRH3s", "values": [0,50,100], "titlePadding": 2}}}},
       {"mark": {"type": "rule", "color": "#424242", "strokeWidth": 2.5},
        "encoding": {"y": {"field": "lo", "type": "quantitative", "scale": {"domain": [0, 104], "nice": false}, "axis": {"title": "% CDRH3s", "values": [0,50,100], "titlePadding": 2}}, "y2": {"field": "hi"}}}
      ]
     },
     {
      "width": 430, "height": 78,
      "title": {"text": "allele = 02", "font": "DejaVu Sans", "fontSize": 11.5, "fontWeight": "normal", "color": "#262626", "anchor": "middle", "offset": 4},
      "data": {"name": "pos"},
      "transform": [{"filter": "datum.allele == '02'"}],
      "encoding": {"x": {"field": "pos", "type": "ordinal", "scale": {"paddingInner": 0.2, "paddingOuter": 0.1}, "axis": null}},
      "layer": [
       {"mark": {"type": "bar", "color": "#e1812c"},
        "encoding": {"y": {"field": "pct", "type": "quantitative", "scale": {"domain": [0, 104], "nice": false}, "axis": {"title": "% CDRH3s", "values": [0,50,100], "titlePadding": 2}}}},
       {"mark": {"type": "rule", "color": "#424242", "strokeWidth": 2.5},
        "encoding": {"y": {"field": "lo", "type": "quantitative", "scale": {"domain": [0, 104], "nice": false}, "axis": {"title": "% CDRH3s", "values": [0,50,100], "titlePadding": 2}}, "y2": {"field": "hi"}}}
      ]
     },
     {
      "width": 430, "height": 78,
      "title": {"text": "allele = 01/02", "font": "DejaVu Sans", "fontSize": 11.5, "fontWeight": "normal", "color": "#262626", "anchor": "middle", "offset": 4},
      "data": {"name": "pos"},
      "transform": [{"filter": "datum.allele == '01/02'"}],
      "encoding": {"x": {"field": "pos", "type": "ordinal", "scale": {"paddingInner": 0.2, "paddingOuter": 0.1}, "axis": {"title": "IGHD8-2 gene position (aa)", "labelAngle": 270, "labelFontSize": 8, "labelPadding": 2, "labelExpr": "datum.value == 0 ? '' : datum.label"}}},
      "layer": [
       {"mark": {"type": "bar", "color": "#3a923a"},
        "encoding": {"y": {"field": "pct", "type": "quantitative", "scale": {"domain": [0, 104], "nice": false}, "axis": {"title": "% CDRH3s", "values": [0,50,100], "titlePadding": 2}}}},
       {"mark": {"type": "rule", "color": "#424242", "strokeWidth": 2.5},
        "encoding": {"y": {"field": "lo", "type": "quantitative", "scale": {"domain": [0, 104], "nice": false}, "axis": {"title": "% CDRH3s", "values": [0,50,100], "titlePadding": 2}}, "y2": {"field": "hi"}}}
      ]
     }
    ]
   }
  ]
 }
]
}
